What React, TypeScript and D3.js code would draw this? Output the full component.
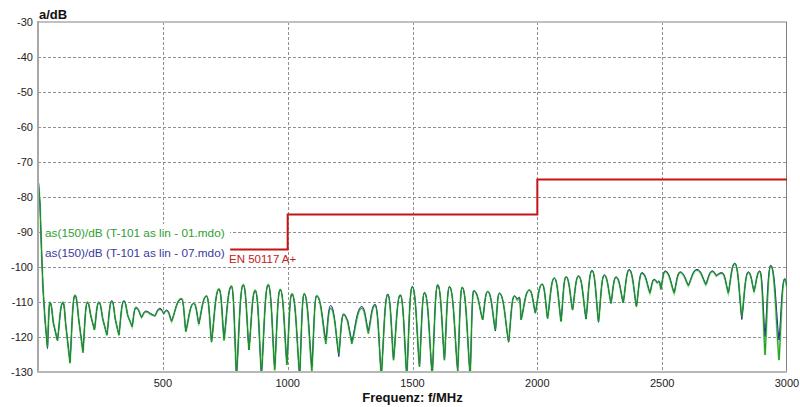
import React from "react";
import * as d3 from "d3";

const freqs = [2, 8, 14, 20, 28, 38, 48, 62, 78, 100, 112, 128, 148, 165, 180, 198, 212, 226, 244, 260, 276, 296, 310, 324, 344, 360, 377, 392, 415, 432, 450, 468, 488, 504, 515, 535, 575, 592, 624, 644, 675, 695, 725, 745, 775, 795, 822, 845, 870, 895, 922, 948, 970, 997, 1017, 1048, 1066, 1097, 1116, 1153, 1172, 1205, 1224, 1240, 1257, 1297, 1323, 1350, 1375, 1401, 1424, 1451, 1477, 1499, 1528, 1548, 1579, 1601, 1628, 1648, 1681, 1699, 1731, 1745, 1781, 1801, 1832, 1848, 1885, 1908, 1920, 1928, 1935, 1968, 1992, 2019, 2041, 2068, 2095, 2115, 2141, 2165, 2195, 2219, 2245, 2268, 2295, 2315, 2344, 2368, 2397, 2419, 2451, 2468, 2480, 2487, 2495, 2512, 2548, 2572, 2605, 2639, 2675, 2701, 2717, 2739, 2765, 2791, 2819, 2845, 2868, 2891, 2912, 2935, 2968, 2991, 3000];

const series01 = [-76, -82, -95, -106, -115, -123, -110, -116, -121, -110, -117, -127.5, -108, -116, -124.5, -110, -114, -118, -110, -115, -119.5, -109.8, -115, -119.5, -109.8, -114, -117, -111.5, -114.4, -112.8, -113.5, -114, -112.1, -113.2, -112.5, -115.6, -109, -118.5, -110.4, -116.1, -108.3, -121.5, -106.2, -121, -105.4, -131, -105, -123.7, -106.6, -130.5, -105, -129.5, -106.4, -128, -107.6, -131, -107.6, -129.9, -108.2, -122, -111.8, -124.7, -113.7, -115.5, -122, -111.8, -119, -111, -131, -108, -126.6, -108, -131, -105.6, -128.5, -107.3, -131, -105.1, -126.6, -105.6, -129.6, -105.8, -131, -106.8, -115.1, -107, -118, -107.5, -121.3, -108.3, -109.5, -108.8, -115.1, -106.6, -113.2, -104.9, -114.7, -103.2, -115.6, -102.8, -112.3, -102.6, -114.7, -101, -115.6, -102.4, -110.3, -103, -110.2, -100.9, -111.3, -101.8, -107.5, -103.7, -104.6, -104.2, -106.4, -101.3, -107.5, -101.6, -105.4, -100.9, -105.1, -101.3, -102.6, -101.8, -107.5, -99.1, -114.2, -101.6, -107, -101.3, -125.1, -99.7, -126.6, -103.5, -106];

const series07 = [-76, -82, -95, -106, -115, -123.3, -110.2, -116.3, -121, -110.3, -117, -127, -108.2, -116, -124, -110.2, -114.2, -118, -110.2, -115, -119.4, -109.6, -115.2, -119.4, -109.6, -114, -117, -111.8, -114.4, -112.6, -113.2, -114, -111.8, -113.4, -112.3, -115.4, -109.2, -118.3, -110.4, -116.3, -108.3, -121.3, -106.4, -120.4, -105.6, -131, -105.1, -123.7, -106.8, -131, -105.1, -129, -106.4, -127.5, -107.7, -131, -107.7, -128.5, -108.3, -120.9, -111, -125.6, -113.4, -115.2, -121.3, -111.3, -118.3, -110.6, -131, -107.7, -126.6, -108, -131, -105.6, -128.5, -107.3, -131, -105.1, -126.6, -105.6, -129.6, -105.8, -131, -106.8, -115.1, -107, -118.3, -107.5, -121.5, -108.3, -109.2, -108.6, -115, -106.6, -113, -104.9, -114.7, -103.2, -115.4, -102.8, -112.3, -102.6, -114.9, -101, -115.8, -102.3, -110.4, -102.8, -110.2, -100.7, -111.3, -101.6, -107.3, -103.5, -104.4, -104, -106.2, -101.1, -107.3, -101.4, -105.2, -100.7, -104.9, -101.1, -102.4, -101.6, -107.3, -98.9, -115, -101.4, -107, -101.1, -119.9, -99.5, -120.9, -103.3, -105.6];

const limitFreqs = [770, 1000, 1000, 2000, 2000, 3000];
const limitValues = [-95, -95, -85, -85, -75, -75];

const xTicks = [500, 1000, 1500, 2000, 2500, 3000];
const yTicks = [-30, -40, -50, -60, -70, -80, -90, -100, -110, -120, -130];

const legendLabels = [
  "as(150)/dB (T-101 as lin - 01.mdo)",
  "as(150)/dB (T-101 as lin - 07.mdo)",
];
const limitLabel = "EN 50117 A+";

const W = 800;
const H = 407;
const M = { left: 38, right: 13, top: 22, bottom: 35 };

// Path with rounded maxima and sharp minima (ripple look)
function ripplePath(
  xs: number[],
  vs: number[],
  x: d3.ScaleLinear<number, number>,
  y: d3.ScaleLinear<number, number>
): string {
  const p = d3.path();
  const n = xs.length;
  const isPeak = (i: number) =>
    i > 0 && i < n - 1 && vs[i] > vs[i - 1] && vs[i] > vs[i + 1];
  p.moveTo(x(xs[0]), y(vs[0]));
  for (let i = 0; i < n - 1; i++) {
    const ax = x(xs[i]);
    const ay = y(vs[i]);
    const bx = x(xs[i + 1]);
    const by = y(vs[i + 1]);
    const dx = bx - ax;
    const dy = by - ay;
    const c1x = isPeak(i) ? ax + dx * 0.5 : ax + dx / 3;
    const c1y = isPeak(i) ? ay : ay + dy / 3;
    const c2x = isPeak(i + 1) ? bx - dx * 0.5 : bx - dx / 3;
    const c2y = isPeak(i + 1) ? by : by - dy / 3;
    p.bezierCurveTo(c1x, c1y, c2x, c2y, bx, by);
  }
  return p.toString();
}

export default function App() {
  const x = d3.scaleLinear().domain([0, 3000]).range([M.left, W - M.right]);
  const y = d3.scaleLinear().domain([-130, -30]).range([H - M.bottom, M.top]);

  const limitLine = d3
    .line<number>()
    .x((_, i) => x(limitFreqs[i]))
    .y((d) => y(d));

  const path01 = ripplePath(freqs, series01, x, y);
  const path07 = ripplePath(freqs, series07, x, y);

  const font = "'Liberation Sans', Arial, sans-serif";
  const x0 = x(0);
  const x1 = x(3000);
  const yTop = y(-30);
  const yBot = y(-130);

  return (
    <svg
      width={W}
      height={H}
      style={{ position: "absolute", left: 0, top: 0, background: "#fff" }}
      fontFamily={font}
    >
      <defs>
        <clipPath id="plotClip">
          <rect x={x0} y={yTop} width={x1 - x0} height={yBot - yTop} />
        </clipPath>
      </defs>
      <rect x={0} y={0} width={W} height={H} fill="#fff" />
      {/* grid */}
      {yTicks
        .filter((t) => t !== -30 && t !== -130)
        .map((t) => (
          <line
            key={"gy" + t}
            x1={x0}
            x2={x1}
            y1={Math.round(y(t)) + 0.5}
            y2={Math.round(y(t)) + 0.5}
            stroke="#909090"
            strokeDasharray="3,2"
            strokeWidth={1}
          />
        ))}
      {xTicks
        .filter((t) => t !== 3000)
        .map((t) => (
          <line
            key={"gx" + t}
            x1={Math.round(x(t)) + 0.5}
            x2={Math.round(x(t)) + 0.5}
            y1={yTop}
            y2={yBot}
            stroke="#909090"
            strokeDasharray="3,2"
            strokeWidth={1}
          />
        ))}
      {/* frame */}
      <line x1={x0} x2={x1} y1={yTop} y2={yTop} stroke="#c0c0c0" strokeWidth={2} />
      <line x1={x1 - 0.5} x2={x1 - 0.5} y1={yTop} y2={yBot} stroke="#808080" strokeWidth={1} />
      {/* legend background */}
      <rect x={43} y={224} width={187} height={40} fill="#fff" />
      {/* limit line */}
      <path d={limitLine(limitValues) || ""} fill="none" stroke="#c41414" strokeWidth={2} />
      {/* traces */}
      <g clipPath="url(#plotClip)">
        <path d={path01} fill="none" stroke="#a4dca4" strokeWidth={2.2} />
        <path d={path07} fill="none" stroke="#22229c" strokeWidth={1} />
        <path d={path01} fill="none" stroke="#1a9e1a" strokeWidth={1} />
      </g>
      {/* axes */}
      <line x1={x0} x2={x0} y1={yTop - 1} y2={yBot + 1} stroke="#a8a8a8" strokeWidth={2} />
      <line x1={x0 - 1} x2={x1} y1={yBot} y2={yBot} stroke="#b8b8b8" strokeWidth={2} />
      {/* y tick labels */}
      {yTicks.map((t) => (
        <text
          key={"ty" + t}
          x={33}
          y={y(t)}
          dy="0.35em"
          textAnchor="end"
          fontSize={11}
          fill="#222"
        >
          {t}
        </text>
      ))}
      {xTicks.map((t) => (
        <text
          key={"tx" + t}
          x={x(t)}
          y={387}
          textAnchor="middle"
          fontSize={11}
          fill="#222"
        >
          {t}
        </text>
      ))}
      {/* axis titles */}
      <text x={39} y={19} fontSize={13} fontWeight="bold" fill="#111">
        a/dB
      </text>
      <text x={(x0 + x1) / 2} y={402} textAnchor="middle" fontSize={13} fontWeight="bold" fill="#111">
        Frequenz: f/MHz
      </text>
      {/* legend */}
      <text x={45} y={237} fontSize={11.8} fill="#2f9e2f">
        {legendLabels[0]}
      </text>
      <text x={45} y={257} fontSize={11.8} fill="#3a3aa0">
        {legendLabels[1]}
      </text>
      <text x={229} y={263} fontSize={11.5} fill="#c42020">
        {limitLabel}
      </text>
    </svg>
  );
}
